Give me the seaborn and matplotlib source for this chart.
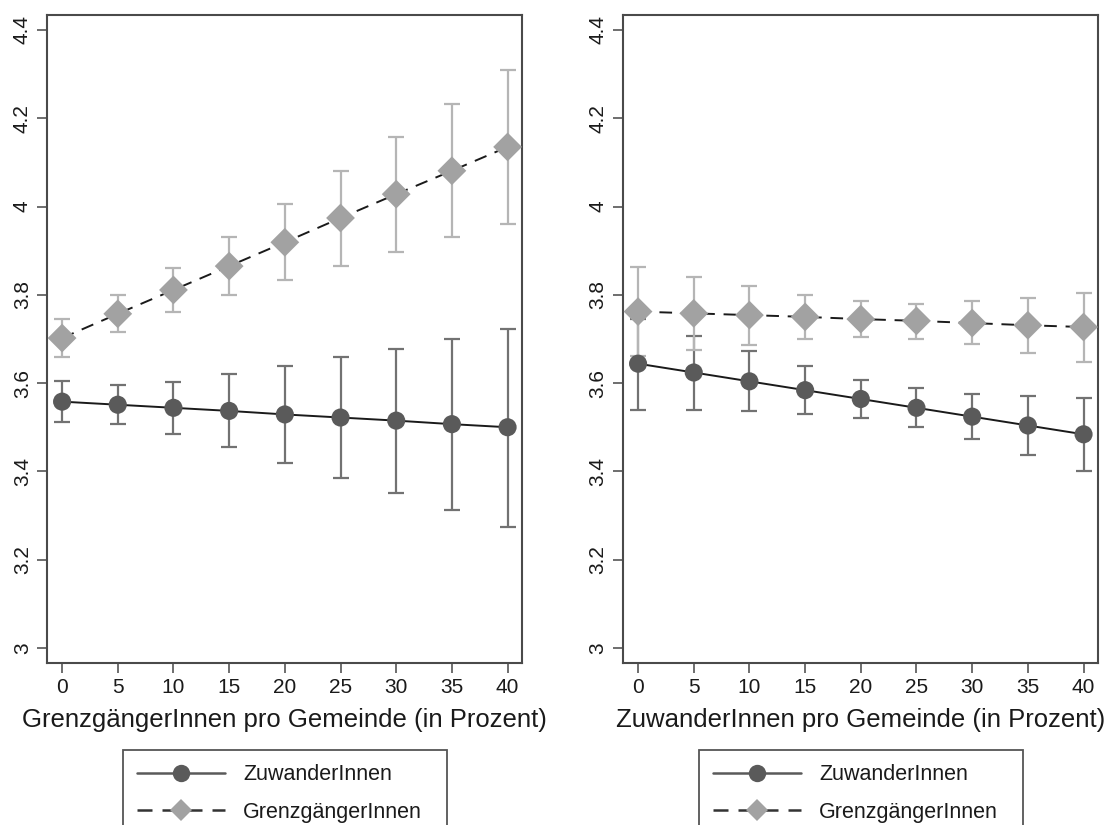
import numpy as np
import pandas as pd
import matplotlib
matplotlib.use("Agg")
import matplotlib.pyplot as plt
from matplotlib.lines import Line2D
import seaborn as sns

# x positions (percent per municipality)
x_vals = [0, 5, 10, 15, 20, 25, 30, 35, 40]
series_names = ["ZuwanderInnen", "GrenzgängerInnen"]

# left panel: x = GrenzgängerInnen pro Gemeinde
left_zuw = [3.558, 3.551, 3.544, 3.537, 3.529, 3.522, 3.515, 3.507, 3.500]
left_zuw_lo = [3.513, 3.508, 3.485, 3.455, 3.420, 3.385, 3.350, 3.313, 3.275]
left_zuw_hi = [3.605, 3.595, 3.603, 3.620, 3.638, 3.660, 3.678, 3.700, 3.722]
left_gren = [3.702, 3.757, 3.811, 3.865, 3.919, 3.974, 4.028, 4.081, 4.135]
left_gren_lo = [3.660, 3.715, 3.762, 3.800, 3.833, 3.866, 3.897, 3.930, 3.960]
left_gren_hi = [3.745, 3.800, 3.860, 3.930, 4.005, 4.080, 4.157, 4.232, 4.310]

# right panel: x = ZuwanderInnen pro Gemeinde
right_zuw = [3.644, 3.624, 3.604, 3.584, 3.564, 3.544, 3.524, 3.504, 3.484]
right_zuw_lo = [3.540, 3.540, 3.537, 3.530, 3.520, 3.500, 3.473, 3.437, 3.400]
right_zuw_hi = [3.745, 3.707, 3.672, 3.638, 3.608, 3.588, 3.575, 3.570, 3.567]
right_gren = [3.762, 3.758, 3.754, 3.750, 3.745, 3.741, 3.736, 3.731, 3.727]
right_gren_lo = [3.662, 3.675, 3.687, 3.700, 3.705, 3.700, 3.688, 3.668, 3.648]
right_gren_hi = [3.862, 3.840, 3.820, 3.800, 3.787, 3.780, 3.785, 3.793, 3.805]

x_labels = ["GrenzgängerInnen pro Gemeinde (in Prozent)",
            "ZuwanderInnen pro Gemeinde (in Prozent)"]
y_ticks = [3, 3.2, 3.4, 3.6, 3.8, 4, 4.2, 4.4]
y_tick_labels = ["3", "3.2", "3.4", "3.6", "3.8", "4", "4.2", "4.4"]

sns.set_theme(style="white")
plt.rcParams["font.family"] = ["Liberation Sans", "DejaVu Sans"]

marker_col = {"ZuwanderInnen": "#5a5a5a", "GrenzgängerInnen": "#a2a2a2"}
marker_size = {"ZuwanderInnen": 170, "GrenzgängerInnen": 215}
ci_col = {"ZuwanderInnen": "#727272", "GrenzgängerInnen": "#b5b5b5"}
frame_col = "#4a4a4a"

fig = plt.figure(figsize=(11.07, 8.25), dpi=100)
ax_l = fig.add_axes([0.0425, 0.1964, 0.4291, 0.7855])
ax_r = fig.add_axes([0.5628, 0.1964, 0.4291, 0.7855])

panels = [
    (ax_l, left_zuw, left_zuw_lo, left_zuw_hi, left_gren, left_gren_lo, left_gren_hi),
    (ax_r, right_zuw, right_zuw_lo, right_zuw_hi, right_gren, right_gren_lo, right_gren_hi),
]

for i, (ax, zuw, zlo, zhi, gren, glo, ghi) in enumerate(panels):
    df = pd.DataFrame({
        "x": x_vals * 2,
        "y": zuw + gren,
        "serie": [series_names[0]] * len(x_vals) + [series_names[1]] * len(x_vals),
    })

    # confidence intervals
    for name, mid, lo, hi in [(series_names[0], zuw, zlo, zhi),
                              (series_names[1], gren, glo, ghi)]:
        mid = np.array(mid)
        ax.errorbar(x_vals, mid, yerr=[mid - np.array(lo), np.array(hi) - mid],
                    fmt="none", ecolor=ci_col[name], elinewidth=1.6,
                    capsize=6, capthick=1.6, zorder=1)

    # connecting lines
    sns.lineplot(data=df, x="x", y="y", hue="serie", style="serie",
                 palette={series_names[0]: "#1a1a1a", series_names[1]: "#1a1a1a"},
                 dashes={series_names[0]: "", series_names[1]: (6.5, 4.5)},
                 linewidth=1.4, legend=False, ax=ax, zorder=2)

    # point estimates
    sns.scatterplot(data=df, x="x", y="y", hue="serie", style="serie",
                    size="serie", sizes=marker_size,
                    palette=marker_col,
                    markers={series_names[0]: "o", series_names[1]: "D"},
                    linewidth=0, legend=False, ax=ax, zorder=3)

    ax.set_xlim(-1.35, 41.3)
    ax.set_ylim(2.966, 4.434)
    ax.set_xticks(x_vals)
    ax.set_xticklabels([str(v) for v in x_vals])
    ax.set_yticks(y_ticks)
    ax.set_yticklabels(y_tick_labels, rotation=90, va="center")
    ax.set_xlabel(x_labels[i], fontsize=18.5, color="#1a1a1a", labelpad=8)
    ax.set_ylabel("")
    ax.tick_params(axis="both", direction="out", length=7, width=1.2,
                   color="#555555", labelsize=15, labelcolor="#1a1a1a",
                   bottom=True, left=True, pad=4)
    for sp in ax.spines.values():
        sp.set_color(frame_col)
        sp.set_linewidth(1.5)

    handles = [
        Line2D([], [], color="#5a5a5a", lw=1.8, ls="-", marker="o",
               markersize=12.5, markerfacecolor=marker_col[series_names[0]],
               markeredgewidth=0),
        Line2D([], [], color="#333333", lw=1.8, ls=(0, (6, 4)), marker="D",
               markersize=11, markerfacecolor=marker_col[series_names[1]],
               markeredgewidth=0),
    ]
    pos = ax.get_position()
    cx = (pos.x0 + pos.x1) / 2
    w = 324 / 1107
    leg = fig.legend(handles, series_names, loc="upper left",
                     bbox_to_anchor=(cx - w / 2, 1 - 751 / 825, w, 0.001),
                     mode="expand", fontsize=15.5, handlelength=4.1,
                     handletextpad=0.85, labelspacing=0.78, borderpad=0.65,
                     borderaxespad=0, frameon=True, fancybox=False,
                     framealpha=1, edgecolor="#555555")
    leg.get_frame().set_linewidth(1.3)
    for t in leg.get_texts():
        t.set_color("#1a1a1a")

fig.savefig("out.png", dpi=100, facecolor="white")
